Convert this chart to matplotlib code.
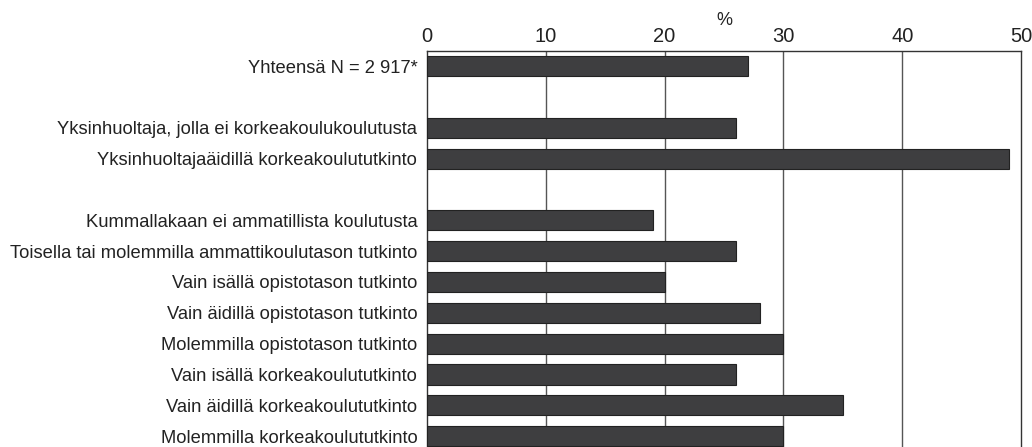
import matplotlib
matplotlib.use("Agg")
import matplotlib.pyplot as plt

plt.rcParams['font.family'] = ['Liberation Sans', 'DejaVu Sans']

categories = [
    "Yhteensä N = 2 917*",
    "",
    "Yksinhuoltaja, jolla ei korkeakoulukoulutusta",
    "Yksinhuoltajaäidillä korkeakoulututkinto",
    "",
    "Kummallakaan ei ammatillista koulutusta",
    "Toisella tai molemmilla ammattikoulutason tutkinto",
    "Vain isällä opistotason tutkinto",
    "Vain äidillä opistotason tutkinto",
    "Molemmilla opistotason tutkinto",
    "Vain isällä korkeakoulututkinto",
    "Vain äidillä korkeakoulututkinto",
    "Molemmilla korkeakoulututkinto",
]
values = [27, None, 26, 49, None, 19, 26, 20, 28, 30, 26, 35, 30]
xticks = [0, 10, 20, 30, 40, 50]
xlabel = "%"

fig = plt.figure(figsize=(10.32, 4.47), dpi=100)
ax = fig.add_axes([427/1032, 0.0, (1021-427)/1032, 1 - 50.6/447])

pos = [i for i, v in enumerate(values) if v is not None]
vals = [v for v in values if v is not None]
ax.barh(pos, vals, height=0.65, color='#3e3e40', edgecolor='#222222',
        linewidth=0.8, zorder=3)

ax.set_xlim(0, 50)
ax.set_ylim(12.35, -0.5)
ax.set_yticks(range(len(categories)))
ax.set_yticklabels(categories, fontsize=13.2, color='#222222')
ax.tick_params(axis='y', length=0, pad=7)

ax.xaxis.tick_top()
ax.xaxis.set_label_position('top')
ax.set_xticks(xticks)
ax.set_xticklabels([str(t) for t in xticks], fontsize=14.5, color='#222222')
ax.tick_params(axis='x', length=0, pad=3)
ax.set_xlabel(xlabel, fontsize=13, color='#222222', labelpad=2)

for t in xticks[1:-1]:
    ax.axvline(t, color='#555555', linewidth=1.0, zorder=1)

for side in ['top', 'left', 'right']:
    ax.spines[side].set_color('#333333')
    ax.spines[side].set_linewidth(1.0)
ax.spines['bottom'].set_visible(False)

fig.savefig("out.png", dpi=100)
